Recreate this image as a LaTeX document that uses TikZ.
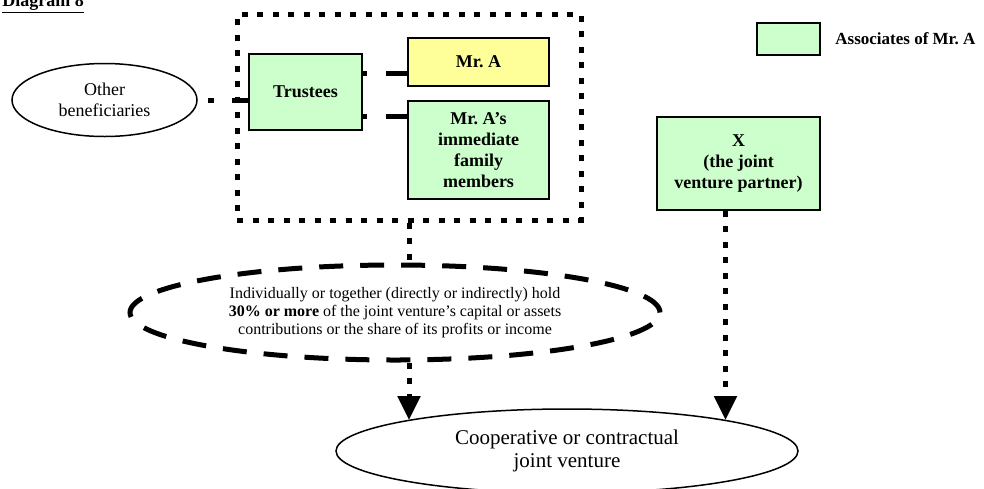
\documentclass[tikz,border=0pt]{standalone}
\usepackage{fontspec}
\setmainfont{Liberation Serif}
\usepackage{tikz}
\usetikzlibrary{arrows.meta}
\usetikzlibrary{shapes.geometric}

\definecolor{assocgreen}{HTML}{CCFFCC}
\definecolor{mrayellow}{HTML}{FFFF99}

\tikzset{
	entity/.style = {rectangle, draw = black, line width = 0.75pt, align = center,
		inner sep = 0pt, font = \fontsize{9}{10.5}\selectfont\bfseries},
	oval/.style = {ellipse, draw = black, line width = 0.75pt, align = center, inner sep = 0pt},
	sqdots/.style = {draw = black, line width = 2.5pt, dash pattern = on 3pt off 4.75pt}
}

\begin{document}
\begin{tikzpicture}[x = 0.5pt, y = -0.5pt]
	\useasboundingbox (0,0) rectangle (984,488);
	\node [anchor = base west, inner sep = 0pt, font = \fontsize{9}{10.5}\selectfont\bfseries]
		(title) at (2,6) {\underline{Diagram 8}};
	% the trust and its members
	\node [sqdots, minimum width = 172pt, minimum height = 103pt] (group) at (409,117) {};
	\begin{scope}[every node/.style = {entity, fill = assocgreen}]
		\node [minimum width = 56.5pt, minimum height = 38pt] (trustees) at (305.5,92) {Trustees};
		\node [fill = mrayellow, minimum width = 70.5pt, minimum height = 24pt] (mra) at (478.5,62) {Mr.~A};
		\node [minimum width = 70.5pt, minimum height = 49pt] (fam) at (478.5,150)
			{Mr.~A's\\immediate\\family\\members};
		\node [minimum width = 81.5pt, minimum height = 46.5pt] (xpartner) at (738.5,163.5)
			{X\\(the joint\\venture partner)};
		\node [minimum width = 31.5pt, minimum height = 16pt] (legend) at (788.5,39) {};
	\end{scope}
	\node [anchor = west, inner sep = 0pt, font = \fontsize{8.5}{10}\selectfont\bfseries]
		(legendtext) at (835,39) {Associates of Mr.~A};
	\begin{scope}[every node/.style = {oval}]
		\node [minimum width = 92.5pt, minimum height = 36.5pt, font = \fontsize{9}{10.5}\selectfont]
			(other) at (104.5,100) {Other\\beneficiaries};
		\node [dash pattern = on 12pt off 8.5pt, line width = 2.5pt, minimum width = 265pt, minimum height = 47.5pt,
			font = \fontsize{8}{9}\selectfont] (hold) at (395,312.5)
			{Individually or together (directly or indirectly) hold\\
			\textbf{30\% or more} of the joint venture's capital or assets\\
			contributions or the share of its profits or income};
		\node [minimum width = 231pt, minimum height = 42pt, font = \fontsize{10.5}{11.5}\selectfont]
			(coop) at (567,451) {Cooperative or contractual\\joint venture};
	\end{scope}
	\begin{scope}[>={Triangle[width = 11pt, length = 12pt]},
			every edge/.style = {sqdots}]
		\path [-] (other.east) edge [dash pattern = on 3pt off 9pt on 10pt off 5pt, dash phase = 22pt]
			(other.east -| trustees.west);
		\path [-] ([yshift = 9.5pt]trustees.east) edge [dash pattern = on 2.25pt off 9.25pt on 11.5pt off 5pt]
			([yshift = 9.5pt]trustees.east -| mra.west);
		\path [-] ([yshift = -12pt]trustees.east) edge [dash pattern = on 2.25pt off 9.25pt on 11.5pt off 5pt]
			([yshift = -12pt]trustees.east -| fam.west);
		\path [-] (group.south) edge (group.south |- hold.north);
		\path [->] (hold.south -| group.south) edge (group.south |- coop.169);
		\path [->] ([xshift = -6.5pt]xpartner.south) edge ([xshift = -6.5pt]xpartner.south |- coop.11);
	\end{scope}
\end{tikzpicture}
\end{document}
